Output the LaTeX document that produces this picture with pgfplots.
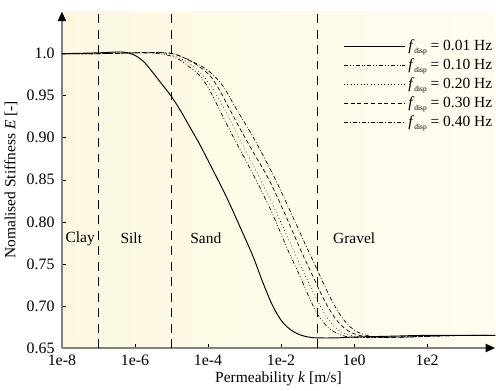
\documentclass[border=0pt]{standalone}
\usepackage{pgfplots}
\pgfplotsset{compat=1.18}
\usepackage{fontspec}
\setmainfont{Liberation Serif}
\usetikzlibrary{arrows.meta}
\newcommand{\fd}{\textit{f}\raisebox{-0.45ex}{\fontsize{5.5}{6}\selectfont disp}}
\begin{document}
\begin{tikzpicture}
\begin{axis}[
  scale only axis,
  width=322pt, height=250pt,
  xmin=-8, xmax=3.86, ymin=0.65, ymax=1.05,
  axis lines=left,
  axis line style={draw=gray, line width=1.3pt},
  every outer x axis line/.append style={-{Triangle[black,length=7pt,width=6pt]}},
  every outer y axis line/.append style={-{Triangle[black,length=7pt,width=6pt]}},
  axis background/.style={shade, left color={rgb,255:red,252;green,248;blue,224}, right color={rgb,255:red,255;green,253;blue,240}},
  xtick={-8,-6,-4,-2,0,2},
  xticklabels={1e-8,1e-6,1e-4,1e-2,1e0,1e2},
  ytick={0.65,0.70,0.75,0.80,0.85,0.90,0.95,1.0},
  yticklabels={0.65,0.70,0.75,0.80,0.85,0.90,0.95,1.0},
  tick align=inside,
  major tick length=3pt,
  tick style={black, thin},
  xticklabel style={yshift=-1.5pt},
  yticklabel style={xshift=-2pt},
  xlabel={Permeability \textit{k} [m/s]},
  ylabel={Nomalised Stiffness \textit{E} [-]},
  xlabel style={yshift=2pt},
  ylabel style={yshift=0pt},
  tick label style={font=\fontsize{11.8}{13}\selectfont},
  label style={font=\fontsize{11.5}{13}\selectfont},
  legend style={draw=none, fill=none, at={(1,0.925)}, anchor=north east, font=\fontsize{11.5}{13}\selectfont, row sep=0.5pt, inner sep=0pt},
  legend cell align=left,
  legend image code/.code={\draw[#1] (0cm,0cm) -- (1.6cm,0cm);},
  clip=false,
]
% zone boundaries
\addplot[forget plot, black, line width=0.6pt, dash pattern=on 6.5pt off 5pt] coordinates {(-7,0.65) (-7,1.05)};
\addplot[forget plot, black, line width=0.6pt, dash pattern=on 6.5pt off 5pt] coordinates {(-5,0.65) (-5,1.05)};
\addplot[forget plot, black, line width=0.6pt, dash pattern=on 6.5pt off 5pt] coordinates {(-1,0.65) (-1,1.05)};
% f = 0.01 Hz
\addplot[black, line width=0.7pt, smooth] coordinates {
(-8,1.000) (-7,1.001) (-6.5,1.002) (-6.25,1.0015) (-6,0.998) (-5.75,0.990) (-5.5,0.977) (-5.25,0.963) (-5,0.949)
(-4.75,0.932) (-4.5,0.913) (-4.25,0.894) (-4,0.873) (-3.5,0.830) (-3,0.782) (-2.75,0.757)
(-2.5,0.728) (-2.25,0.702) (-2,0.683) (-1.75,0.672) (-1.5,0.666) (-1.25,0.663) (-1,0.662)
(-0.5,0.662) (0,0.663) (1,0.664) (2,0.665) (3.86,0.665)};
\addlegendentry{\fd{} = 0.01 Hz}
% f = 0.10 Hz
\addplot[black, line width=0.5pt, smooth, dash pattern=on 3pt off 1.5pt on 0.6pt off 1.5pt on 0.6pt off 1.5pt] coordinates {
(-8,1.000) (-7,1.000) (-6,1.001) (-5.5,1.0005) (-5.2,0.999) (-5,0.997) (-4.75,0.992) (-4.5,0.984) (-4.25,0.975)
(-4,0.960) (-3.75,0.939) (-3.5,0.917) (-3.15,0.888) (-2.69,0.850) (-2.25,0.811) (-1.83,0.768)
(-1.5,0.737) (-1.25,0.712) (-1,0.690) (-0.75,0.676) (-0.5,0.668) (-0.25,0.664) (0,0.6625)
(0.5,0.6625) (1,0.663) (2,0.664) (3,0.665) (3.86,0.665)};
\addlegendentry{\fd{} = 0.10 Hz}
% f = 0.20 Hz
\addplot[black, line width=0.5pt, smooth, dotted] coordinates {
(-8,1.000) (-7,1.000) (-6,1.001) (-5.5,1.001) (-5.1,0.999) (-4.8,0.995) (-4.5,0.988) (-4.16,0.975) (-3.9,0.960)
(-3.61,0.939) (-3.3,0.913) (-3.01,0.888) (-2.56,0.850) (-2.2,0.818) (-1.68,0.768) (-1.4,0.742)
(-1.1,0.714) (-0.85,0.694) (-0.6,0.678) (-0.35,0.669) (-0.1,0.665) (0.2,0.663) (0.6,0.6625)
(1,0.663) (2,0.664) (3,0.665) (3.86,0.665)};
\addlegendentry{\fd{} = 0.20 Hz}
% f = 0.30 Hz
\addplot[black, line width=0.5pt, smooth, dash pattern=on 3pt off 2pt] coordinates {
(-8,1.000) (-7,1.000) (-6,1.001) (-5.5,1.0015) (-5,1.000) (-4.7,0.996) (-4.35,0.988) (-3.97,0.975) (-3.7,0.958)
(-3.47,0.939) (-3.15,0.913) (-2.83,0.888) (-2.33,0.850) (-1.9,0.810) (-1.48,0.768) (-1.2,0.742)
(-0.9,0.714) (-0.65,0.694) (-0.4,0.679) (-0.15,0.670) (0.1,0.6655) (0.4,0.663) (0.8,0.6625)
(1.5,0.663) (2.5,0.6645) (3.86,0.665)};
\addlegendentry{\fd{} = 0.30 Hz}
% f = 0.40 Hz
\addplot[black, line width=0.5pt, smooth, dash pattern=on 3pt off 1.5pt on 0.6pt off 1.5pt] coordinates {
(-8,1.000) (-7,1.000) (-6,1.001) (-5.5,1.0015) (-5,1.0005) (-4.7,0.996) (-4.4,0.990) (-4.1,0.983) (-3.84,0.974)
(-3.55,0.959) (-3.29,0.939) (-3.0,0.918) (-2.69,0.895) (-2.15,0.850) (-1.7,0.808) (-1.28,0.768)
(-1.0,0.742) (-0.7,0.714) (-0.45,0.694) (-0.2,0.679) (0.05,0.670) (0.3,0.6655) (0.6,0.663)
(1.0,0.6625) (1.5,0.663) (2.5,0.6645) (3.86,0.665)};
\addlegendentry{\fd{} = 0.40 Hz}
% zone names
\node[font=\fontsize{11.5}{13}\selectfont] at (axis cs:-7.5,0.78) {Clay};
\node[font=\fontsize{11.5}{13}\selectfont] at (axis cs:-6.1,0.78) {Silt};
\node[font=\fontsize{11.5}{13}\selectfont] at (axis cs:-4.06,0.78) {Sand};
\node[font=\fontsize{11.5}{13}\selectfont] at (axis cs:0.0,0.78) {Gravel};
\end{axis}
\path (current axis.outer north) ++(0,8pt);
\end{tikzpicture}
\end{document}
